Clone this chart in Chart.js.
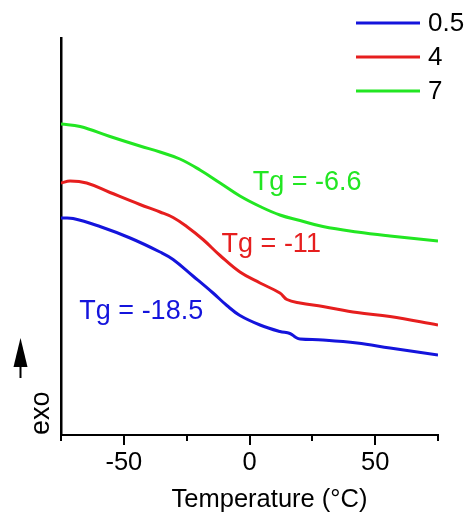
<!DOCTYPE html>
<html>
<head>
<meta charset="utf-8">
<script src="https://cdn.jsdelivr.net/npm/chart.js@4/dist/chart.umd.min.js"></script>
<style>
  html, body { margin: 0; padding: 0; background: #fff; }
  canvas { display: block; }
</style>
</head>
<body>
<canvas id="c" width="470" height="524"></canvas>
<script>
// ---- data (heat flow in arbitrary units, exo up) ----
const seriesLabels = ['0.5', '4', '7'];

const temp05 = [-75, -70.2, -59.5, -47.5, -35.6, -30.4, -22.5, -14.5, -9.0, -3.8, 4.2, 12.1, 16.1, 18.5, 20.1, 29.2, 42.8, 55.9, 75];
const heat05 = [217, 216.5, 208.5, 197, 183, 175.5, 159, 142, 129.5, 119.5, 110, 103.5, 101.5, 97.5, 96, 95, 92, 87, 80];

const temp4 = [-75, -71.4, -64.8, -55.5, -43.6, -35.6, -30.4, -25.0, -18.5, -11.7, -3.8, 4.2, 12.1, 14.9, 20.1, 29.2, 42.8, 55.9, 75];
const heat4 = [252, 254, 252, 242.5, 230.5, 223, 217.5, 208.5, 195.5, 179.5, 163, 152, 142, 135.5, 132, 128.5, 122.5, 118.5, 110];

const temp7 = [-75, -67.4, -55.5, -43.6, -35.6, -27.7, -19.7, -11.7, -3.8, 4.2, 12.1, 20.1, 29.2, 42.8, 55.9, 75];
const heat7 = [311, 308.5, 298.5, 289, 283, 276, 265, 252, 239, 228.5, 220, 214.5, 208.5, 203, 199, 194];

const tgTexts = ['Tg = -18.5', 'Tg = -11', 'Tg = -6.6'];
const tgTextT = [-67.7, -11.1, 1.3];
const tgTextHeat = [115.7, 183.3, 245];

const xTitle = 'Temperature (°C)';
const yTitle = 'exo';

const xMin = -75, xMax = 75, xTickStep = 25, xLabelStep = 50;
const yMin = 0, yMax = 397;

// ---- styles ----
const colors = ['#1414dc', '#e61e1e', '#22e622'];
const FONT = "'Liberation Sans', Arial, sans-serif";

const toPoints = (xs, ys) => xs.map((v, i) => ({ x: v, y: ys[i] }));
const seriesTemps = [temp05, temp4, temp7];
const seriesHeats = [heat05, heat4, heat7];

const datasets = seriesLabels.map((lab, i) => ({
  label: lab,
  data: toPoints(seriesTemps[i], seriesHeats[i]),
  borderColor: colors[i],
  backgroundColor: colors[i],
  borderWidth: 3,
  pointRadius: 0,
  fill: false,
  tension: 0.4
}));

const decor = {
  id: 'decor',
  afterDraw(chart) {
    const { ctx, chartArea: a, scales: { x, y } } = chart;
    ctx.save();
    // minor ticks on x axis
    ctx.strokeStyle = '#000';
    ctx.lineWidth = 2;
    x.ticks.forEach(t => {
      if (t.value % xLabelStep !== 0) {
        const px = Math.round(x.getPixelForValue(t.value));
        ctx.beginPath();
        ctx.moveTo(px, a.bottom);
        ctx.lineTo(px, a.bottom + 6);
        ctx.stroke();
      }
    });
    // x axis title (offset right of centre as in the reference)
    ctx.font = '25.5px ' + FONT;
    ctx.fillStyle = '#000';
    ctx.textAlign = 'center';
    ctx.textBaseline = 'alphabetic';
    ctx.fillText(xTitle, (a.left + a.right) / 2 + 20, a.bottom + 72);
    // legend (top right)
    ctx.font = '26px ' + FONT;
    ctx.textBaseline = 'middle';
    ctx.textAlign = 'left';
    chart.data.datasets.forEach((ds, i) => {
      const ly = 23 + i * 34;
      ctx.strokeStyle = ds.borderColor;
      ctx.lineWidth = 3;
      ctx.beginPath();
      ctx.moveTo(356, ly);
      ctx.lineTo(420, ly);
      ctx.stroke();
      ctx.fillStyle = '#000';
      ctx.fillText(ds.label, 428, ly + 1);
    });
    // Tg annotations
    ctx.font = '27px ' + FONT;
    ctx.textBaseline = 'alphabetic';
    tgTexts.forEach((t, i) => {
      ctx.fillStyle = colors[i];
      ctx.fillText(t, x.getPixelForValue(tgTextT[i]), y.getPixelForValue(tgTextHeat[i]));
    });
    // exo arrow
    const ax = 20.5, tip = a.bottom - 97, base = a.bottom - 68, end = a.bottom - 57;
    ctx.fillStyle = '#000';
    ctx.beginPath();
    ctx.moveTo(ax, tip);
    ctx.lineTo(ax - 7, base);
    ctx.lineTo(ax + 7, base);
    ctx.closePath();
    ctx.fill();
    ctx.strokeStyle = '#000';
    ctx.lineWidth = 2;
    ctx.beginPath();
    ctx.moveTo(ax, base - 2);
    ctx.lineTo(ax, end);
    ctx.stroke();
    ctx.restore();
  }
};

new Chart(document.getElementById('c'), {
  type: 'line',
  data: { datasets },
  plugins: [decor],
  options: {
    responsive: false,
    animation: false,
    devicePixelRatio: 1,
    layout: { padding: { top: 38, right: 32, left: 0, bottom: 0 } },
    plugins: { legend: { display: false }, tooltip: { enabled: false } },
    scales: {
      x: {
        type: 'linear',
        min: xMin, max: xMax,
        afterFit: s => { s.height = 89; },
        border: { display: true, color: '#000', width: 2 },
        grid: {
          display: true,
          drawOnChartArea: false,
          drawTicks: true,
          tickLength: 10,
          lineWidth: 2,
          color: c => (c.tick && c.tick.value % xLabelStep === 0) ? '#000' : 'rgba(0,0,0,0)'
        },
        ticks: {
          stepSize: xTickStep,
          autoSkip: false,
          maxRotation: 0,
          color: '#000',
          padding: 3,
          font: { family: FONT, size: 25.5 },
          callback: v => (v % xLabelStep === 0 ? String(v) : '')
        },
        title: { display: false }
      },
      y: {
        type: 'linear',
        min: yMin, max: yMax,
        afterFit: s => { s.width = 61; },
        border: { display: true, color: '#000', width: 2.5 },
        grid: { display: false },
        ticks: { display: false },
        title: {
          display: true,
          text: yTitle,
          align: 'start',
          color: '#000',
          font: { family: FONT, size: 27 },
          padding: { top: 25, bottom: 0 }
        }
      }
    }
  }
});
</script>
</body>
</html>
